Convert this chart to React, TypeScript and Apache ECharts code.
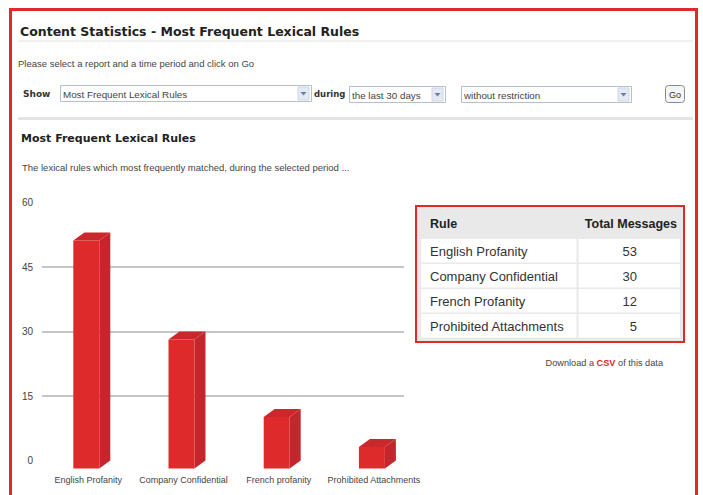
import React, { useEffect, useRef } from "react";
import * as echarts from "echarts";

const axisCategories = ["English Profanity", "Company Confidential", "French profanity", "Prohibited Attachments"];
const ruleNames = ["English Profanity", "Company Confidential", "French Profanity", "Prohibited Attachments"];
const totalMessages = [53, 30, 12, 5];
const yTicks = { min: 0, max: 60, interval: 15 };

const FONT = "'Liberation Sans', Arial, sans-serif";
const WIDE = "'DejaVu Sans', Verdana, sans-serif";
const RED = "#e02a2a";

function selectBox(x: number, y: number, w: number, label: string) {
  const h = 16;
  return [
    { type: "rect", shape: { x: x + 0.5, y: y + 0.5, width: w, height: h }, style: { fill: "#fff", stroke: "#b3bfd2", lineWidth: 1 } },
    { type: "text", style: { x: x + 3, y: y + h / 2 + 1, text: label, font: `9.8px ${FONT}`, fill: "#444", verticalAlign: "middle" } },
    { type: "rect", shape: { x: x + w - 13, y: y + 2, width: 11, height: h - 3 }, style: { fill: "#e4eaf4", stroke: "#cdd6e4", lineWidth: 1 } },
    { type: "polygon", shape: { points: [[x + w - 10.5, y + 7], [x + w - 4.5, y + 7], [x + w - 7.5, y + 10.5]] }, style: { fill: "#6b7fa3" } },
  ];
}

export default function App() {
  const ref = useRef<HTMLDivElement>(null);
  useEffect(() => {
    const chart = echarts.init(ref.current!, null, { renderer: "svg" });

    const tableX = 416, tableY = 206, tableW = 268, tableH = 136;
    const tableEls: any[] = [
      { type: "rect", shape: { x: tableX, y: tableY, width: tableW, height: tableH }, style: { fill: "#e9e9e9", stroke: RED, lineWidth: 2 } },
      { type: "text", style: { x: 430, y: 224, text: "Rule", font: `bold 12.5px ${FONT}`, fill: "#222", verticalAlign: "middle" } },
      { type: "text", style: { x: 677, y: 224, text: "Total Messages", font: `bold 12.5px ${FONT}`, fill: "#222", verticalAlign: "middle", align: "right" } },
    ];
    ruleNames.forEach((name, i) => {
      const top = 239 + 25 * i;
      tableEls.push(
        { type: "rect", shape: { x: 421, y: top, width: 155.5, height: 23.5 }, style: { fill: "#fff" } },
        { type: "rect", shape: { x: 578.5, y: top, width: 101.5, height: 23.5 }, style: { fill: "#fff" } },
        { type: "text", style: { x: 430, y: top + 12, text: name, font: `13px ${FONT}`, fill: "#333", verticalAlign: "middle" } },
        { type: "text", style: { x: 637, y: top + 12, text: String(totalMessages[i]), font: `13px ${FONT}`, fill: "#333", verticalAlign: "middle", align: "right" } }
      );
    });

    const graphic: any[] = [
      { type: "rect", shape: { x: 10.5, y: 9.5, width: 686, height: 530 }, style: { fill: "none", stroke: RED, lineWidth: 3 } },
      { type: "text", style: { x: 20, y: 31, text: "Content Statistics - Most Frequent Lexical Rules", font: `bold 12.5px ${WIDE}`, fill: "#222", verticalAlign: "middle" } },
      { type: "line", shape: { x1: 18, y1: 41, x2: 693, y2: 41 }, style: { stroke: "#f0f0f0", lineWidth: 2 } },
      { type: "text", style: { x: 18, y: 63, text: "Please select a report and a time period and click on Go", font: `9.5px ${FONT}`, fill: "#444", verticalAlign: "middle" } },
      { type: "text", style: { x: 23, y: 94, text: "Show", font: `bold 9px ${WIDE}`, fill: "#333", verticalAlign: "middle" } },
      ...selectBox(60, 85, 251, "Most Frequent Lexical Rules"),
      { type: "text", style: { x: 314, y: 94, text: "during", font: `bold 8.5px ${WIDE}`, fill: "#333", verticalAlign: "middle" } },
      ...selectBox(349, 86, 96, "the last 30 days"),
      ...selectBox(461, 86, 170, "without restriction"),
      { type: "rect", shape: { x: 665.5, y: 85.5, width: 19, height: 17, r: 3 }, style: { fill: "#f5f5f5", stroke: "#8a8a8a", lineWidth: 1 } },
      { type: "text", style: { x: 675, y: 94.5, text: "Go", font: `9px ${FONT}`, fill: "#333", verticalAlign: "middle", align: "center" } },
      { type: "line", shape: { x1: 18, y1: 118.5, x2: 693, y2: 118.5 }, style: { stroke: "#e4e4e4", lineWidth: 3 } },
      { type: "text", style: { x: 21, y: 138.5, text: "Most Frequent Lexical Rules", font: `bold 11px ${WIDE}`, fill: "#222", verticalAlign: "middle" } },
      { type: "text", style: { x: 22, y: 167, text: "The lexical rules which most frequently matched, during the selected period ...", font: `9.5px ${FONT}`, fill: "#444", verticalAlign: "middle" } },
      ...tableEls,
      {
        type: "text",
        style: {
          x: 663, y: 363, align: "right", verticalAlign: "middle",
          text: "{a|Download a }{b|CSV}{a| of this data}",
          rich: {
            a: { font: `9.2px ${FONT}`, fill: "#444" },
            b: { font: `bold 9.2px ${FONT}`, fill: RED },
          },
        },
      },
    ];

    const gridTop = 202.5, gridBottom = 495 - 460.5;
    chart.setOption({
      animation: false,
      backgroundColor: "#fff",
      textStyle: { fontFamily: FONT },
      grid: [
        { left: 42, right: 299, top: gridTop, bottom: gridBottom },
        { left: 40.7, right: 281.5, top: gridTop, bottom: gridBottom },
      ],
      xAxis: [
        { type: "category", gridIndex: 0, data: axisCategories, show: false },
        {
          type: "category", gridIndex: 1, data: axisCategories,
          axisLine: { show: false }, axisTick: { show: false },
          axisLabel: { fontSize: 9, color: "#444", margin: 15, interval: 0 },
        },
      ],
      yAxis: [
        {
          type: "value", gridIndex: 0, min: yTicks.min, max: yTicks.max, interval: yTicks.interval,
          axisLine: { show: false }, axisTick: { show: false },
          axisLabel: { fontSize: 10, color: "#444", margin: 9 },
          splitLine: { show: true, showMinLine: false, showMaxLine: false, lineStyle: { color: "#c6c6c6", width: 2 } },
        },
        { type: "value", gridIndex: 1, min: yTicks.min, max: yTicks.max, interval: yTicks.interval, show: false, splitLine: { show: false } },
      ],
      series: [
        {
          type: "custom",
          xAxisIndex: 1,
          yAxisIndex: 1,
          data: totalMessages.map((v, i) => [i, v]),
          encode: { x: 0, y: 1 },
          renderItem: (params: any, api: any) => {
            const idx = api.value(0);
            const v = api.value(1);
            const top = api.coord([idx, v]);
            const base = api.coord([idx, 0]);
            const cx = top[0] - 2;
            const half = 13, dx = 11, dy = 8;
            const x1 = cx - half, x2 = cx + half;
            const yT = top[1] + dy, yB = base[1] + dy;
            return {
              type: "group",
              children: [
                { type: "polygon", shape: { points: [[x2, yT], [x2 + dx, yT - dy], [x2 + dx, yB - dy], [x2, yB]] }, style: { fill: "#c2272d" } },
                { type: "polygon", shape: { points: [[x1, yT], [x1 + dx, yT - dy], [x2 + dx, yT - dy], [x2, yT]] }, style: { fill: "#c9292d" } },
                { type: "polygon", shape: { points: [[x1, yT], [x2, yT], [x2, yB], [x1, yB]] }, style: { fill: "#de2a2a" } },
              ],
            };
          },
        },
      ],
      graphic,
    });
    return () => chart.dispose();
  }, []);
  return <div ref={ref} style={{ position: "absolute", left: 0, top: 0, width: 703, height: 495 }} />;
}
